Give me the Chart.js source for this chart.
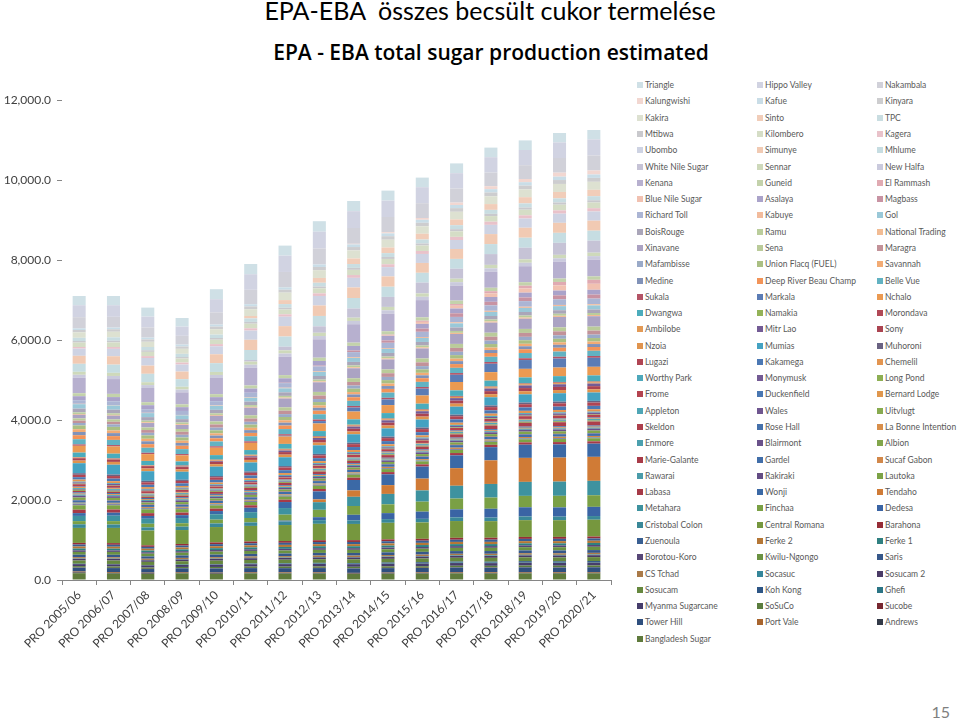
<!DOCTYPE html>
<html>
<head>
<meta charset="utf-8">
<script src="https://cdn.jsdelivr.net/npm/chart.js@4.4.1/dist/chart.umd.min.js"></script>
<style>
  body { margin: 0; width: 960px; height: 723px; position: relative; background: #fff; overflow: hidden; font-family: Lato, "Open Sans", sans-serif; }
  #title { position: absolute; left: 0; width: 980px; top: -5px; text-align: center; font-size: 25px; color: #000; white-space: pre; }
  #subtitle { position: absolute; left: 0; width: 982px; top: 38px; text-align: center; font-family: "Open Sans", sans-serif; font-size: 21px; font-weight: 600; color: #000; }
  #chartBox { position: absolute; left: 0; top: 0; width: 620px; height: 723px; }
  #legend { position: absolute; left: 637px; top: 77px; display: grid; grid-template-columns: 120px 120px 120px; grid-auto-rows: 16.29px; font-size: 8.5px; color: #595959; }
  #legend .item { display: flex; align-items: center; white-space: nowrap; }
  #legend .box { width: 6px; height: 6px; margin-right: 2px; flex: none; }
  #page { position: absolute; right: 10px; bottom: 2px; font-size: 16px; color: #7f7f7f; }
</style>
</head>
<body>
<div id="title">EPA-EBA  összes becsült cukor termelése</div>
<div id="subtitle">EPA - EBA total sugar production estimated</div>
<div id="chartBox"><canvas id="sugarChart"></canvas></div>
<div id="legend"></div>
<div id="page">15</div>
<script>
// years on the x axis
const categories = ['PRO 2005/06', 'PRO 2006/07', 'PRO 2007/08', 'PRO 2008/09', 'PRO 2009/10', 'PRO 2010/11',
    'PRO 2011/12', 'PRO 2012/13', 'PRO 2013/14', 'PRO 2014/15', 'PRO 2015/16', 'PRO 2016/17',
    'PRO 2017/18', 'PRO 2018/19', 'PRO 2019/20', 'PRO 2020/21'];

const yTicks = [0, 2000, 4000, 6000, 8000, 10000, 12000];

// production per factory, 1000 t (bottom of the stack first)
const bangladeshSugar = [170,160,150,165,150,165,160,160,150,155,160,165,160,165,160,165];
const andrews = [20,18,16,15,16,15,14,14,13,14,14,15,15,15,15,15];
const portVale = [22,20,18,17,18,17,16,16,15,16,16,17,17,17,17,17];
const towerHill = [95,100,90,95,105,100,105,108,110,112,110,115,115,118,118,120];
const sucobe = [5,5,5,4,5,5,5,6,6,6,6,6,7,7,7,7];
const soSuCo = [35,33,32,30,32,33,35,36,36,38,38,38,40,40,40,40];
const myanmaSugarcane = [50,55,55,50,58,60,62,62,65,64,66,68,68,70,70,70];
const ghefi = [10,10,10,12,12,12,13,13,14,14,14,15,15,15,15,15];
const kohKong = [0,0,0,0,3,6,10,14,16,18,20,22,22,24,25,25];
const sosucam = [80,85,78,82,85,88,88,90,92,92,94,95,95,96,96,98];
const sosucam2 = [40,40,38,40,42,42,43,44,45,45,46,46,47,47,48,48];
const socasuc = [10,10,10,10,10,11,11,12,12,13,14,15,16,17,18,18];
const csTchad = [35,32,30,33,35,34,35,36,36,37,37,38,38,39,39,40];
const saris = [60,62,58,60,64,64,65,66,66,67,68,68,69,70,70,70];
const kwiluNgongo = [70,72,68,70,74,75,76,77,78,78,79,80,80,81,82,82];
const borotouKoro = [40,38,36,38,40,41,41,42,42,43,43,44,44,45,45,45];
const ferke1 = [45,44,42,44,46,47,47,48,48,49,49,50,50,50,51,51];
const ferke2 = [50,48,46,48,50,51,52,52,53,54,54,55,55,56,56,56];
const zuenoula = [50,48,46,48,51,52,52,53,54,54,55,55,56,56,57,57];
const barahona = [40,42,38,40,43,44,44,45,45,46,46,47,47,48,48,48];
const centralRomana = [375,380,370,348,385,390,400,410,405,415,410,420,415,420,418,420];
const cristobalColon = [90,85,80,85,90,88,90,92,90,92,90,92,90,92,90,92];
const dedesa = [0,0,0,0,0,0,20,74,139,150,180,200,220,230,230,230];
const finchaa = [80,85,90,85,95,110,150,185,220,220,250,270,280,285,290,290];
const metahara = [130,135,125,130,135,146,165,190,230,260,280,320,340,350,355,360];
const tendaho = [0,0,0,0,0,0,0,70,160,220,296,440,590,600,600,600];
const wonji = [70,75,70,72,80,110,150,200,260,270,300,320,330,330,330,330];
const labasa = [85,80,70,65,60,62,58,60,58,56,56,58,58,58,58,58];
const lautoka = [110,105,95,85,80,82,78,80,76,75,74,76,76,76,76,76];
const rakiraki = [25,22,20,18,16,16,14,15,14,14,14,14,14,14,14,14];
const rawarai = [20,18,16,15,14,14,13,13,12,12,12,12,12,12,12,12];
const sucafGabon = [20,22,24,25,26,26,28,28,30,30,30,32,32,32,32,32];
const gardel = [60,55,50,55,58,60,62,62,60,62,62,64,64,64,64,64];
const marieGalante = [10,10,9,9,9,10,10,10,10,10,10,10,10,10,10,10];
const albion = [60,58,52,55,52,54,50,52,52,50,55,58,60,60,62,62];
const blairmont = [45,42,40,42,40,40,38,40,40,38,42,44,45,46,46,46];
const enmore = [30,28,26,28,26,26,24,25,24,24,26,27,28,28,28,28];
const laBonneIntention = [25,24,22,24,22,22,20,21,20,20,22,23,24,24,24,24];
const roseHall = [30,28,26,28,26,26,24,25,24,24,26,27,28,28,28,28];
const skeldon = [35,32,30,40,50,60,60,65,60,65,70,80,90,95,100,100];
const uitvlugt = [28,26,24,26,24,24,22,23,22,22,24,25,26,26,26,26];
const wales = [18,16,15,16,15,14,12,12,12,10,10,10,10,10,10,10];
const appleton = [25,24,20,22,24,25,26,27,28,28,29,30,30,30,31,31];
const bernardLodge = [25,22,20,18,16,14,15,16,16,16,17,18,18,18,18,18];
const duckenfield = [12,11,10,10,10,11,11,12,12,12,12,13,13,13,13,13];
const frome = [60,55,50,48,45,48,50,55,58,60,62,65,66,68,70,70];
const longPond = [15,14,12,12,10,8,10,12,12,14,14,15,15,15,15,15];
const monymusk = [30,28,26,25,24,26,28,30,32,33,34,35,36,36,37,37];
const worthyPark = [20,21,20,22,22,23,24,24,25,25,26,26,27,27,27,27];
const chemelil = [50,48,45,42,44,46,48,50,52,52,54,55,56,56,58,58];
const kakamega = [60,63,58,65,66,70,71,74,75,79,80,82,83,85,86,86];
const lugazi = [60,65,62,60,64,66,68,70,72,74,76,78,80,80,82,82];
const muhoroni = [40,38,36,30,32,34,35,36,37,38,39,40,41,42,42,42];
const mumias = [250,245,240,200,235,225,220,215,210,205,200,200,205,205,210,210];
const nzoia = [65,70,68,60,62,64,66,68,70,72,74,76,78,79,80,80];
const sony = [60,62,60,58,60,62,64,66,68,70,72,74,76,78,78,78];
const mitrLao = [0,0,0,10,20,30,40,50,55,60,62,64,65,66,66,66];
const ambilobe = [15,14,12,15,18,20,22,24,25,26,27,28,29,30,30,30];
const morondava = [10,10,9,10,12,13,14,15,16,16,17,17,18,18,18,18];
const namakia = [5,5,4,5,6,7,8,8,9,9,10,10,10,10,10,10];
const dwangwa = [110,115,105,100,110,115,120,125,130,130,135,138,140,142,145,145];
const nchalo = [170,180,170,150,185,180,185,190,195,200,205,210,212,215,215,215];
const markala = [0,0,0,0,0,0,20,60,100,140,170,180,210,220,225,225];
const sukala = [35,36,34,35,36,38,38,40,40,42,42,44,44,45,45,45];
const belleVue = [130,128,125,122,120,125,128,130,128,130,128,130,130,130,130,130];
const deepRiverBeauChamp = [100,95,90,85,80,85,88,90,90,92,92,94,95,95,95,95];
const medine = [80,75,72,70,68,70,72,72,70,72,72,74,74,74,74,74];
const savannah = [70,66,62,58,55,58,60,60,60,62,62,62,62,62,62,62];
const unionFlacq = [95,90,85,80,75,80,82,84,84,86,86,88,88,88,88,88];
const mafambisse = [60,62,64,66,68,70,72,75,78,80,82,84,85,86,86,86];
const maragra = [60,65,70,75,80,82,85,88,90,92,94,96,98,98,100,100];
const sena = [55,60,65,70,75,80,85,90,92,95,98,100,100,100,100,100];
const xinavane = [90,93,110,100,140,190,220,240,250,250,250,248,252,255,260,260];
const nationalTrading = [20,20,20,20,22,22,24,24,26,26,28,28,30,30,30,30];
const ramu = [40,38,40,42,40,44,42,44,45,46,46,48,48,50,50,50];
const boisRouge = [95,92,88,84,88,86,88,90,88,90,88,88,88,88,88,88];
const gol = [110,105,100,95,100,98,100,102,100,102,100,102,102,102,102,102];
const kabuye = [10,10,8,10,12,14,16,18,20,22,24,26,28,30,30,30];
const richardToll = [90,95,90,100,105,110,115,120,125,130,130,135,135,140,140,140];
const magbass = [0,0,0,0,0,0,10,20,40,60,80,90,90,92,100,100];
const asalaya = [100,105,100,95,100,105,110,115,115,115,118,120,120,120,120,120];
const blueNileSugar = [0,0,0,0,0,0,0,0,0,20,50,70,90,105,130,150];
const elRammash = [0,0,0,0,0,0,0,0,0,10,30,42,55,70,85,100];
const guneid = [75,80,75,70,75,78,80,82,82,84,84,86,86,86,86,86];
const kenana = [385,370,356,300,405,440,460,460,460,440,430,375,400,400,420,420];
const newHalfa = [75,78,72,70,75,78,80,82,82,84,84,86,86,86,86,86];
const sennar = [75,78,72,70,75,78,80,82,82,84,84,86,86,86,86,86];
const whiteNileSugar = [0,0,0,0,0,40,90,160,230,250,270,250,270,290,300,300];
const mhlume = [200,205,210,190,220,250,255,260,262,255,245,245,250,250,250,250];
const simunye = [200,210,205,190,222,255,260,262,264,258,246,248,250,250,250,250];
const ubombo = [180,185,190,175,200,230,235,238,240,232,225,225,230,230,230,230];
const kagera = [40,45,48,50,55,58,60,65,70,72,75,78,80,80,82,82];
const kilombero = [110,115,105,100,110,115,120,125,130,132,135,138,140,140,142,142];
const mtibwa = [40,42,40,38,42,44,46,48,50,50,52,54,55,56,56,56];
const tpc = [80,85,82,80,85,88,90,92,95,96,98,100,100,102,102,102];
const sinto = [0,0,0,0,0,60,100,120,140,140,145,145,145,155,160,160];
const kakira = [135,140,130,125,135,170,185,195,200,195,185,190,195,195,200,200];
const kinyara = [60,62,60,58,65,70,75,80,85,88,90,92,95,96,98,98];
const kafue = [40,42,45,48,50,55,58,62,66,70,74,78,82,84,85,85];
const kalungwishi = [0,0,0,0,0,0,0,0,15,30,45,60,75,80,100,100];
const nakambala = [280,270,255,220,305,360,385,400,395,380,370,350,340,345,366,375];
const hippoValley = [300,290,270,230,330,390,410,420,420,410,400,385,385,380,390,402];
const triangle = [230,230,225,215,250,255,249,262,255,250,240,245,240,240,235,235];

const seriesNames = ['Bangladesh Sugar', 'Andrews', 'Port Vale', 'Tower Hill', 'Sucobe', 'SoSuCo', 'Myanma Sugarcane',
    'Ghefi', 'Koh Kong', 'Sosucam', 'Sosucam 2', 'Socasuc', 'CS Tchad', 'Saris', 'Kwilu-Ngongo', 'Borotou-Koro',
    'Ferke 1', 'Ferke 2', 'Zuenoula', 'Barahona', 'Central Romana', 'Cristobal Colon', 'Dedesa', 'Finchaa',
    'Metahara', 'Tendaho', 'Wonji', 'Labasa', 'Lautoka', 'Rakiraki', 'Rawarai', 'Sucaf Gabon', 'Gardel',
    'Marie-Galante', 'Albion', 'Blairmont', 'Enmore', 'La Bonne Intention', 'Rose Hall', 'Skeldon', 'Uitvlugt',
    'Wales', 'Appleton', 'Bernard Lodge', 'Duckenfield', 'Frome', 'Long Pond', 'Monymusk', 'Worthy Park',
    'Chemelil', 'Kakamega', 'Lugazi', 'Muhoroni', 'Mumias', 'Nzoia', 'Sony', 'Mitr Lao', 'Ambilobe', 'Morondava',
    'Namakia', 'Dwangwa', 'Nchalo', 'Markala', 'Sukala', 'Belle Vue', 'Deep River Beau Champ', 'Medine',
    'Savannah', 'Union Flacq (FUEL)', 'Mafambisse', 'Maragra', 'Sena', 'Xinavane', 'National Trading', 'Ramu',
    'BoisRouge', 'Gol', 'Kabuye', 'Richard Toll', 'Magbass', 'Asalaya', 'Blue Nile Sugar', 'El Rammash', 'Guneid',
    'Kenana', 'New Halfa', 'Sennar', 'White Nile Sugar', 'Mhlume', 'Simunye', 'Ubombo', 'Kagera', 'Kilombero',
    'Mtibwa', 'TPC', 'Sinto', 'Kakira', 'Kinyara', 'Kafue', 'Kalungwishi', 'Nakambala', 'Hippo Valley', 'Triangle'];

const seriesValues = [bangladeshSugar, andrews, portVale, towerHill, sucobe, soSuCo, myanmaSugarcane,
    ghefi, kohKong, sosucam, sosucam2, socasuc, csTchad, saris, kwiluNgongo, borotouKoro,
    ferke1, ferke2, zuenoula, barahona, centralRomana, cristobalColon, dedesa, finchaa,
    metahara, tendaho, wonji, labasa, lautoka, rakiraki, rawarai, sucafGabon, gardel,
    marieGalante, albion, blairmont, enmore, laBonneIntention, roseHall, skeldon, uitvlugt,
    wales, appleton, bernardLodge, duckenfield, frome, longPond, monymusk, worthyPark,
    chemelil, kakamega, lugazi, muhoroni, mumias, nzoia, sony, mitrLao, ambilobe, morondava,
    namakia, dwangwa, nchalo, markala, sukala, belleVue, deepRiverBeauChamp, medine,
    savannah, unionFlacq, mafambisse, maragra, sena, xinavane, nationalTrading, ramu,
    boisRouge, gol, kabuye, richardToll, magbass, asalaya, blueNileSugar, elRammash, guneid,
    kenana, newHalfa, sennar, whiteNileSugar, mhlume, simunye, ubombo, kagera, kilombero,
    mtibwa, tpc, sinto, kakira, kinyara, kafue, kalungwishi, nakambala, hippoValley, triangle];

const seriesColors = ['#5f7a3c', '#333a48', '#a8652e', '#2f4f7e', '#772730', '#5b7d3e', '#463d6b',
    '#2b7585', '#2d5585', '#66883f', '#4a3b66', '#35869a', '#aa7a48', '#36578a', '#6b9242', '#574777',
    '#2f8081', '#b57736', '#395f92', '#962c36', '#76973e', '#3a8898', '#3a64a4', '#7aa045',
    '#3e929f', '#d07b36', '#3b69a6', '#a63a47', '#7ca346', '#634c84', '#4a9caa', '#d2884a', '#416ea9',
    '#a83b48', '#82a64b', '#6a518a', '#4ba0ae', '#d88f4b', '#4571ab', '#ad3f4c', '#88ab50',
    '#6f5690', '#4fa6b6', '#e0974d', '#4977b2', '#b4434f', '#8daf53', '#735a94', '#4ea8bb',
    '#e39550', '#4b78b4', '#b04553', '#6a6282', '#44a2c2', '#e0944e', '#ab4451', '#735b95', '#e39a55', '#b14856',
    '#93b357', '#4bacbc', '#eb9a52', '#5b7cb5', '#b45466', '#62b2c2', '#f29459', '#8192b8',
    '#f2ab74', '#aabf83', '#9aaac8', '#c29299', '#bacb9a', '#aba3c3', '#f2bc94', '#bacd9c',
    '#aaa6b9', '#9ac8d8', '#f2bb9c', '#abb5d4', '#c893a3', '#aaa3ca', '#f1c1b1', '#e0aab2', '#c3d2ab',
    '#b7b0cf', '#cacadd', '#ced9bb', '#c6c3d6', '#c6dde2', '#f1cab3', '#ced3e3', '#e9c2ca', '#d5ddc6',
    '#c9c9cd', '#c9dde1', '#f1cdb9', '#dde1d1', '#cdcdcf', '#c9dde7', '#f2d7d1', '#d1d1d9', '#d1d3e2', '#cfe0e6'];

const datasets = seriesNames.map((name, i) => ({
    label: name,
    data: seriesValues[i],
    backgroundColor: seriesColors[i],
    borderWidth: 0,
    barPercentage: 0.38,
    categoryPercentage: 1
}));

// legend as html, 3 columns, top series first
const htmlLegend = {
    id: 'htmlLegend',
    afterUpdate(chart) {
        const box = document.getElementById('legend');
        box.innerHTML = '';
        const items = Chart.defaults.plugins.legend.labels.generateLabels(chart).reverse();
        items.forEach(item => {
            const row = document.createElement('div');
            row.className = 'item';
            const sw = document.createElement('span');
            sw.className = 'box';
            sw.style.background = item.fillStyle;
            row.appendChild(sw);
            row.appendChild(document.createTextNode(item.text));
            box.appendChild(row);
        });
    }
};

const tickFont = { family: 'Lato, "Open Sans", sans-serif', size: 12 };

const sugarChart = new Chart(document.getElementById('sugarChart'), {
    type: 'bar',
    data: { labels: categories, datasets: datasets },
    options: {
        responsive: true,
        maintainAspectRatio: false,
        animation: false,
        layout: { padding: { top: 100, right: 9, left: 0, bottom: 0 } },
        plugins: { legend: { display: false }, tooltip: { enabled: false } },
        scales: {
            x: {
                stacked: true,
                grid: { drawOnChartArea: false, tickLength: 5, color: '#868686', offset: true },
                border: { color: '#868686' },
                ticks: { minRotation: 45, maxRotation: 45, autoSkip: false, color: '#404040', font: tickFont },
                afterFit: s => { s.height = 143; }
            },
            y: {
                stacked: true,
                min: 0,
                max: 12000,
                afterBuildTicks: s => { s.ticks = yTicks.map(v => ({ value: v })); },
                ticks: {
                    padding: 6,
                    color: '#404040',
                    font: tickFont,
                    callback: v => v.toLocaleString('en-US', { minimumFractionDigits: 1, maximumFractionDigits: 1 })
                },
                grid: { drawOnChartArea: false, tickLength: 5, color: '#868686' },
                border: { display: false },
                afterFit: s => { s.width = 62; }
            }
        }
    },
    plugins: [htmlLegend]
});
</script>
</body>
</html>
